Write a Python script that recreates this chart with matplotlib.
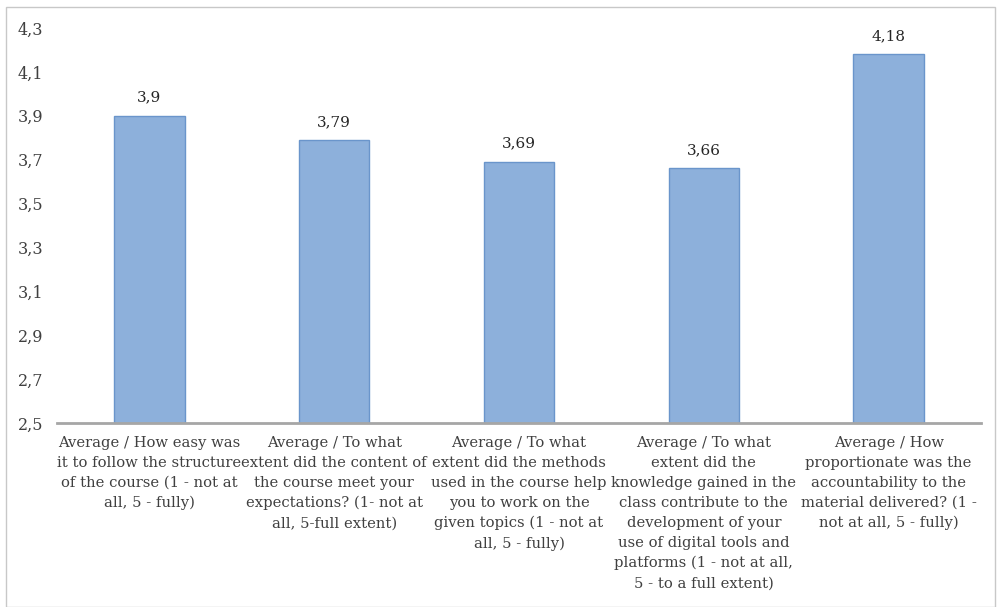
import numpy as np
import matplotlib.pyplot as plt
from matplotlib.patches import Rectangle

labels = [
    "Average / How easy was\nit to follow the structure\nof the course (1 - not at\nall, 5 - fully)",
    "Average / To what\nextent did the content of\nthe course meet your\nexpectations? (1- not at\nall, 5-full extent)",
    "Average / To what\nextent did the methods\nused in the course help\nyou to work on the\ngiven topics (1 - not at\nall, 5 - fully)",
    "Average / To what\nextent did the\nknowledge gained in the\nclass contribute to the\ndevelopment of your\nuse of digital tools and\nplatforms (1 - not at all,\n5 - to a full extent)",
    "Average / How\nproportionate was the\naccountability to the\nmaterial delivered? (1 -\nnot at all, 5 - fully)",
]
values = [3.9, 3.79, 3.69, 3.66, 4.18]
yticks = [2.5, 2.7, 2.9, 3.1, 3.3, 3.5, 3.7, 3.9, 4.1, 4.3]

plt.rcParams['font.family'] = ['DejaVu Serif']
fig = plt.figure(figsize=(9.98, 6.07), dpi=100)
ax = fig.add_axes([57/998, 1 - 423/607, (981-57)/998, (423-28)/607])

x = np.arange(len(values))
bars = ax.bar(x, values, width=0.38, bottom=0, color='#8db0db',
              edgecolor='#6a95cb', linewidth=1)
ax.set_ylim(2.5, 4.3)
ax.set_xlim(-0.5, len(values) - 0.5)
ax.set_yticks(yticks)
ax.set_yticklabels([str(t).replace('.', ',') for t in yticks])
ax.set_xticks(x)
ax.set_xticklabels(labels, linespacing=1.55, va='top', fontsize=10.6)

for b, v in zip(bars, values):
    ax.annotate(str(v).replace('.', ','), (b.get_x() + b.get_width()/2, v),
                xytext=(0, 8), textcoords='offset points', ha='center',
                va='bottom', fontsize=11, color='#262626')

for s in ['top', 'right', 'left']:
    ax.spines[s].set_visible(False)
ax.spines['bottom'].set_color('#a6a6a6')
ax.spines['bottom'].set_linewidth(2)
ax.tick_params(axis='both', length=0, colors='#404040')
ax.tick_params(axis='y', labelsize=11.5, pad=10)
ax.tick_params(axis='x', pad=9)

fig.patches.append(Rectangle((6/998, 0), 989/998, 1 - 7/607, transform=fig.transFigure,
                             fill=False, edgecolor='#c8c8c8', linewidth=1))

fig.savefig('out.png', dpi=100)
